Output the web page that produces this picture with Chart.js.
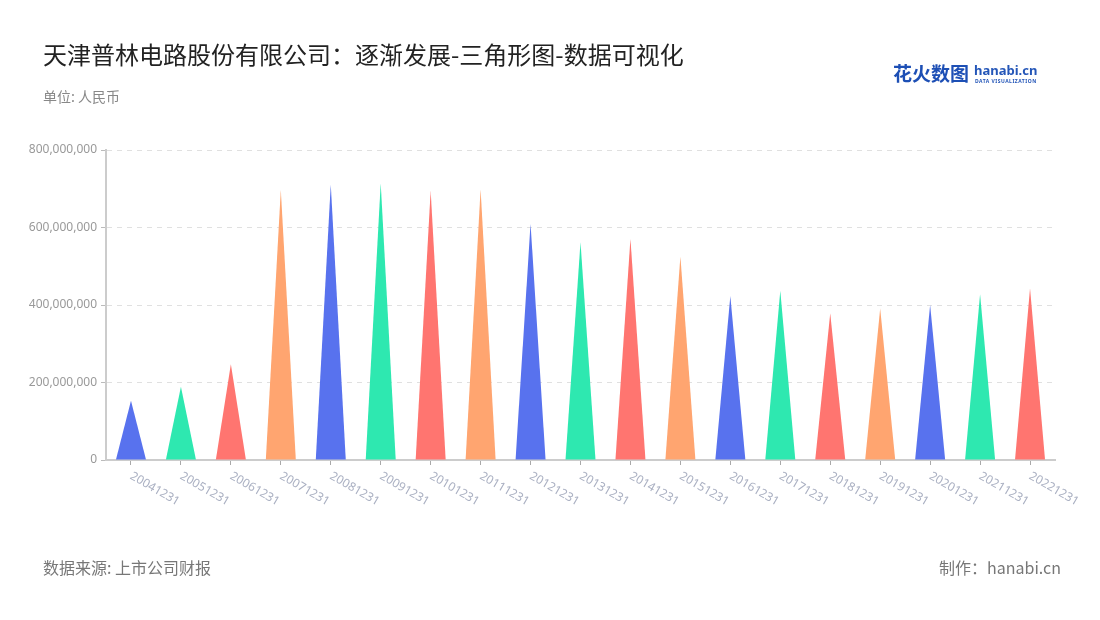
<!DOCTYPE html>
<html>
<head>
<meta charset="utf-8">
<script src="https://cdn.jsdelivr.net/npm/chart.js@4.4.0/dist/chart.umd.min.js"></script>
<style>
  html, body { margin: 0; padding: 0; background: #fff; }
  body { width: 1100px; height: 620px; position: relative; overflow: hidden;
    font-family: "Noto Sans CJK SC", "Noto Sans", sans-serif; }
  #chartBox { position: absolute; left: 0; top: 0; width: 1100px; height: 620px; }
  .title { position: absolute; left: 43px; top: 38px; font-size: 24px; color: #222; line-height: 32px; }
  .unit { position: absolute; left: 43px; top: 86px; font-size: 14px; color: #888; line-height: 20px; }
  .source { position: absolute; left: 43px; top: 556px; font-size: 16px; color: #777; line-height: 22px; }
  .maker { position: absolute; right: 39px; top: 556px; font-size: 16px; color: #777; line-height: 22px; }
  .logo { position: absolute; left: 893px; top: 60px; height: 30px; }
  .logo .cn { position: absolute; left: 0; top: 0; font-size: 19px; font-weight: bold; color: #1d4fb5; white-space: nowrap; line-height: 26px; }
  .logo .en { position: absolute; left: 81px; top: 2px; font-size: 13px; font-weight: bold; color: #2456b8; font-family: "Noto Sans", sans-serif; line-height: 16px; }
  .logo .sub { position: absolute; left: 82px; top: 18px; font-size: 5px; font-weight: bold; color: #2456b8; letter-spacing: 0.5px; white-space: nowrap; font-family: "Noto Sans", sans-serif; }
</style>
</head>
<body>
<div id="chartBox"><canvas id="triChart" width="1100" height="620"></canvas></div>
<div class="title">天津普林电路股份有限公司：逐渐发展-三角形图-数据可视化</div>
<div class="unit">单位: 人民币</div>
<div class="logo"><span class="cn">花火数图</span><span class="en">hanabi.cn</span><span class="sub">DATA VISUALIZATION</span></div>
<div class="source">数据来源: 上市公司财报</div>
<div class="maker">制作：hanabi.cn</div>
<script>
const periods = ["20041231", "20051231", "20061231", "20071231", "20081231", "20091231", "20101231",
  "20111231", "20121231", "20131231", "20141231", "20151231", "20161231", "20171231", "20181231",
  "20191231", "20201231", "20211231", "20221231"]
const revenue = [153000000, 189000000, 247000000, 697000000, 711000000, 714000000, 695000000,
  699000000, 610000000, 562000000, 571000000, 525000000, 423000000, 437000000, 379000000,
  391000000, 400000000, 428000000, 443000000]
const yTicks = [0, 200000000, 400000000, 600000000, 800000000]
const palette = ["#5872ee", "#2ee8b0", "#ff7570", "#ffa570"]

const triangles = {
  id: "triangles",
  beforeDatasetDraw(chart, args) {
    const ctx = chart.ctx
    args.meta.data.forEach((bar) => {
      const { x, y, base, width } = bar.getProps(["x", "y", "base", "width"], true)
      ctx.save()
      ctx.beginPath()
      ctx.moveTo(x - width / 2, base)
      ctx.lineTo(x, y)
      ctx.lineTo(x + width / 2, base)
      ctx.closePath()
      ctx.fillStyle = bar.options.backgroundColor
      ctx.fill()
      ctx.restore()
    })
    return false
  },
  afterDraw(chart) {
    // rotated category labels, hanging down-right from each tick
    const ctx = chart.ctx
    const xScale = chart.scales.x
    ctx.save()
    ctx.font = '12px "Noto Sans", sans-serif'
    ctx.fillStyle = "#aab0c2"
    ctx.textAlign = "left"
    ctx.textBaseline = "top"
    periods.forEach((label, i) => {
      const px = xScale.getPixelForTick(i)
      ctx.save()
      ctx.translate(px + 3, chart.chartArea.bottom + 10)
      ctx.rotate(Math.PI / 6)
      ctx.fillText(label, 0, 0)
      ctx.restore()
    })
    ctx.restore()
  },
}

new Chart(document.getElementById("triChart"), {
  type: "bar",
  data: {
    labels: periods,
    datasets: [
      {
        data: revenue,
        backgroundColor: periods.map((p, i) => palette[i % palette.length]),
        barPercentage: 0.6,
        categoryPercentage: 1,
      },
    ],
  },
  options: {
    responsive: false,
    animation: false,
    layout: { padding: { left: 0, right: 45, top: 150, bottom: 0 } },
    plugins: {
      legend: { display: false },
      tooltip: { enabled: false },
    },
    scales: {
      x: {
        afterFit(scale) { scale.height = 160 },
        grid: { display: true, drawOnChartArea: false, drawTicks: true, tickLength: 5, offset: false, color: "#aaa" },
        border: { display: true, color: "#ccc", width: 2 },
        ticks: { display: false },
      },
      y: {
        min: 0,
        max: 800000000,
        afterFit(scale) { scale.width = 106 },
        afterBuildTicks(scale) { scale.ticks = yTicks.map((v) => ({ value: v })) },
        grid: { color: "#e0e0e0", tickLength: 5, tickColor: "#bbb", drawTicks: true, tickBorderDash: [] },
        border: { display: true, color: "#ccc", width: 2, dash: [5, 5] },
        ticks: {
          color: "#999",
          font: { size: 12, family: '"Noto Sans", sans-serif' },
          padding: 4,
          callback: (v) => v.toLocaleString("en-US"),
        },
      },
    },
  },
  plugins: [triangles],
})
</script>
</body>
</html>
